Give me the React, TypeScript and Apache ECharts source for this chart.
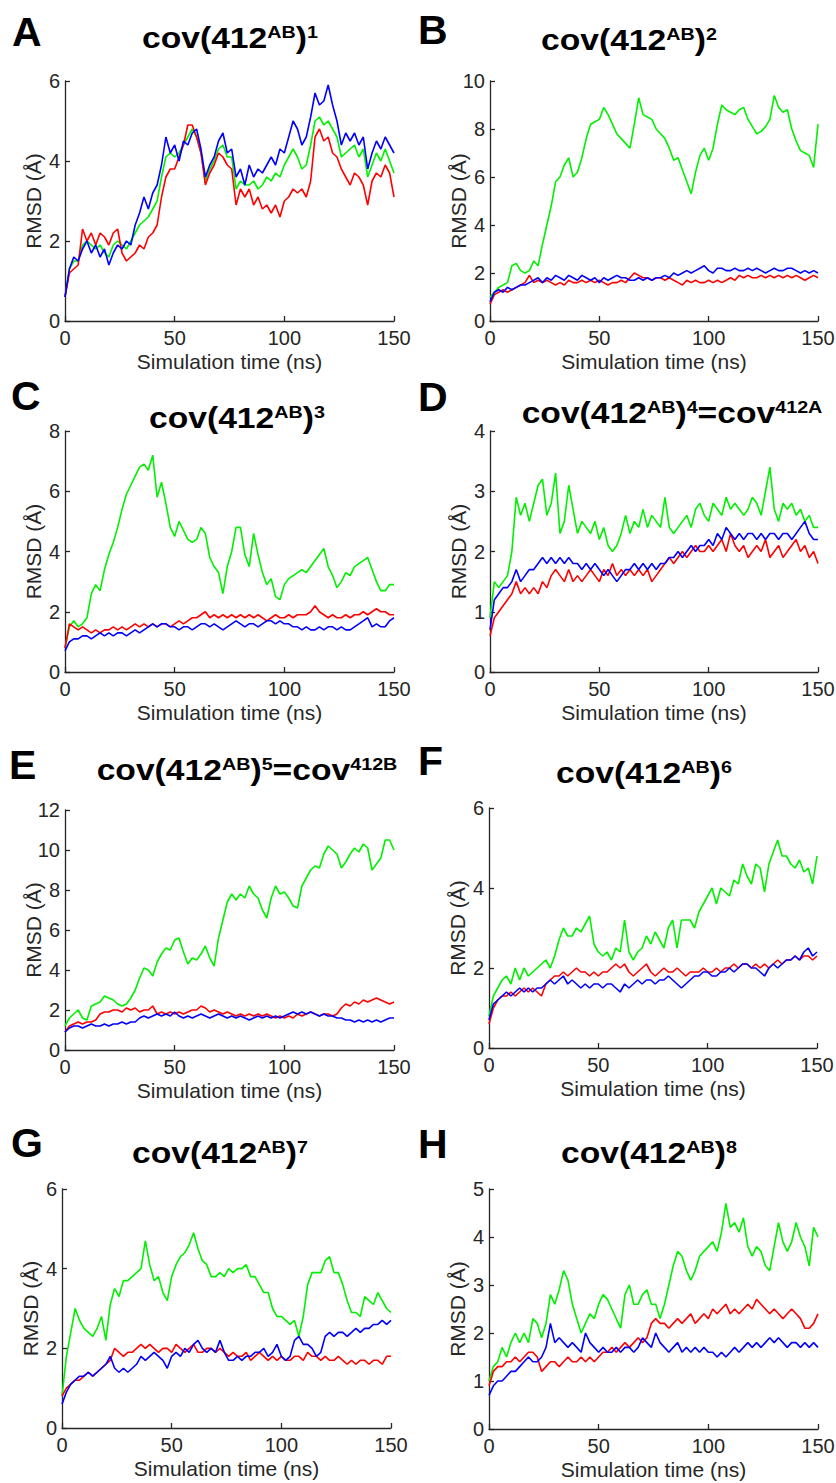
import React, { useEffect, useRef } from 'react';
import * as echarts from 'echarts';

const FONT = '"Liberation Sans", Arial, Helvetica, sans-serif';
const AXIS_COLOR = '#262626';

// simulation time (ns)
const time = [
  0, 2, 4, 6, 8, 10, 12, 14, 16, 18,
  20, 22, 24, 26, 28, 30, 32, 34, 36, 38,
  40, 42, 44, 46, 48, 50, 52, 54, 56, 58,
  60, 62, 64, 66, 68, 70, 72, 74, 76, 78,
  80, 82, 84, 86, 88, 90, 92, 94, 96, 98,
  100, 102, 104, 106, 108, 110, 112, 114, 116, 118,
  120, 122, 124, 126, 128, 130, 132, 134, 136, 138,
  140, 142, 144, 146, 148, 150,
];

// ---- Panel A ----
const redA = [
  0.6, 1.2, 1.3, 1.4, 2.3, 2.0, 2.2, 1.9, 2.2, 2.1,
  1.9, 2.2, 2.3, 1.7, 1.5, 1.6, 1.7, 1.9, 1.8, 2.1,
  2.2, 2.4, 3.1, 3.6, 3.8, 3.8, 4.1, 4.4, 4.9, 4.9,
  4.6, 4.2, 3.4, 3.7, 3.9, 4.2, 4.1, 3.9, 3.8, 2.9,
  3.3, 3.1, 3.3, 2.9, 3.1, 2.8, 2.9, 2.7, 2.9, 2.6,
  3.0, 3.1, 3.3, 3.2, 3.3, 3.1, 3.5, 4.6, 4.8, 4.5,
  4.6, 4.2, 4.1, 3.8, 3.6, 3.4, 3.7, 3.6, 3.4, 2.9,
  3.5, 3.7, 3.6, 3.9, 3.7, 3.1,
];
const greenA = [
  0.6, 1.3, 1.5, 1.5, 1.9, 2.0, 1.9, 1.8, 1.9, 1.7,
  1.6, 1.9, 2.0, 1.9, 1.8, 2.0, 2.2, 2.4, 2.5, 2.6,
  2.8, 3.0, 3.6, 4.1, 4.2, 4.1, 4.2, 4.4, 4.6, 4.8,
  4.6, 4.2, 3.5, 3.8, 4.0, 4.3, 4.4, 4.1, 4.1, 3.3,
  3.5, 3.4, 3.4, 3.5, 3.3, 3.4, 3.6, 3.5, 3.7, 3.6,
  3.9, 4.1, 4.3, 4.1, 3.8, 3.9, 4.4, 5.0, 5.1, 4.9,
  5.0, 4.8, 4.6, 4.1, 4.2, 4.3, 4.4, 4.1, 4.3, 3.6,
  3.9, 4.2, 4.0, 4.3, 4.0, 3.7,
];
const blueA = [
  0.6, 1.3, 1.6, 1.5, 1.8, 2.0, 1.7, 1.9, 1.6, 1.8,
  1.4, 1.7, 1.9, 1.8, 2.0, 1.9, 2.4, 2.7, 3.1, 2.8,
  3.2, 3.4, 3.9, 4.6, 4.2, 4.4, 4.0, 4.5, 4.4, 4.7,
  4.8, 4.3, 3.6, 3.9, 4.1, 4.5, 4.7, 4.2, 4.3, 3.6,
  3.8, 3.4, 3.9, 3.6, 3.8, 3.7, 3.9, 4.1, 3.9, 4.3,
  4.2, 4.6, 5.0, 4.8, 4.4, 4.6, 5.1, 5.7, 5.4, 5.5,
  5.9, 5.4, 5.0, 4.4, 4.7, 4.5, 4.7, 4.4, 4.6, 3.8,
  4.2, 4.5, 4.3, 4.6, 4.4, 4.2,
];

// ---- Panel B ----
const redB = [
  0.7, 1.1, 1.2, 1.3, 1.2, 1.3, 1.4, 1.5, 1.6, 1.9,
  1.6, 1.7, 1.6, 1.7, 1.6, 1.5, 1.6, 1.5, 1.7, 1.6,
  1.6, 1.7, 1.6, 1.7, 1.6, 1.7, 1.6, 1.5, 1.6, 1.6,
  1.7, 1.6, 1.8, 2.0, 1.9, 1.8, 1.8, 1.7, 1.8, 1.8,
  1.7, 1.8, 1.7, 1.6, 1.5, 1.7, 1.6, 1.7, 1.6, 1.6,
  1.7, 1.6, 1.7, 1.6, 1.7, 1.8, 1.7, 1.9, 1.8, 1.9,
  1.8, 1.8, 1.9, 1.8, 1.9, 1.8, 1.9, 1.8, 1.9, 1.8,
  1.9, 1.8, 1.7, 1.8, 1.9, 1.8,
];
const greenB = [
  1.0, 1.2, 1.4, 1.5, 1.6, 2.3, 2.4, 2.1, 2.0, 2.1,
  2.5, 2.3, 3.2, 4.0, 4.8, 5.8, 6.0, 6.5, 6.8, 6.0,
  6.2, 6.8, 7.6, 8.2, 8.3, 8.4, 8.9, 8.6, 8.2, 7.8,
  7.6, 7.4, 7.2, 8.2, 9.3, 8.6, 8.5, 8.4, 8.0, 7.8,
  7.6, 7.2, 6.7, 6.8, 6.3, 5.8, 5.3, 6.2, 6.9, 7.2,
  6.7, 7.2, 8.2, 9.0, 8.8, 8.7, 8.6, 8.8, 8.9, 8.4,
  8.1, 7.8, 7.9, 8.1, 8.4, 9.4, 8.9, 8.7, 8.8, 8.0,
  7.5, 7.1, 7.0, 6.9, 6.4, 8.2,
];
const blueB = [
  0.8, 1.2, 1.3, 1.2, 1.4, 1.3, 1.4, 1.5, 1.5, 1.6,
  1.7, 1.8, 1.6, 1.8, 1.7, 1.9, 1.8, 1.7, 1.9, 1.8,
  1.7, 1.9, 1.8, 1.7, 1.8, 1.6, 1.8, 1.7, 1.8, 1.9,
  1.8, 1.8, 1.7, 1.7, 1.8, 1.7, 1.8, 1.7, 1.8, 1.8,
  1.9, 1.8, 2.0, 1.9, 2.0, 2.1, 2.0, 2.1, 2.2, 2.3,
  2.1, 2.0, 2.2, 2.2, 2.1, 2.1, 2.2, 2.1, 2.1, 2.2,
  2.1, 2.2, 2.1, 2.0, 2.1, 2.2, 2.1, 2.1, 2.2, 2.2,
  2.1, 2.0, 2.1, 2.0, 2.1, 2.0,
];

// ---- Panel C ----
const redC = [
  0.8, 1.6, 1.5, 1.4, 1.5, 1.4, 1.3, 1.4, 1.3, 1.4,
  1.4, 1.5, 1.4, 1.5, 1.4, 1.5, 1.6, 1.5, 1.6, 1.5,
  1.6, 1.5, 1.6, 1.6, 1.5, 1.6, 1.7, 1.6, 1.7, 1.8,
  1.8, 1.9, 2.0, 1.8, 1.9, 1.8, 1.9, 1.8, 1.9, 1.8,
  1.9, 1.8, 1.9, 1.8, 1.9, 1.8, 1.7, 1.8, 1.9, 1.8,
  1.8, 1.9, 1.8, 1.9, 1.9, 1.9, 2.0, 2.2, 2.0, 1.9,
  1.8, 1.9, 1.8, 1.8, 1.9, 1.8, 1.9, 1.9, 2.0, 1.9,
  2.0, 2.1, 2.0, 2.0, 1.9, 1.9,
];
const greenC = [
  0.8, 1.5, 1.7, 1.5, 1.6, 1.8, 2.6, 2.9, 2.7, 3.4,
  3.9, 4.3, 4.8, 5.4, 5.9, 6.2, 6.5, 6.8, 6.9, 6.7,
  7.2, 5.8, 6.3, 5.6, 4.8, 4.5, 5.0, 4.7, 4.4, 4.3,
  4.4, 4.8, 4.6, 3.8, 3.5, 3.3, 2.6, 3.5, 4.0, 4.8,
  4.8, 3.9, 3.5, 4.6, 3.9, 3.3, 2.9, 3.1, 2.5, 2.4,
  2.9, 3.1, 3.2, 3.3, 3.4, 3.3, 3.5, 3.7, 3.9, 4.1,
  3.5, 3.2, 2.8, 3.0, 3.3, 3.2, 3.5, 3.6, 3.7, 3.8,
  3.4, 3.0, 2.7, 2.7, 2.9, 2.9,
];
const blueC = [
  0.7, 1.0, 1.1, 1.1, 1.2, 1.2, 1.1, 1.2, 1.3, 1.2,
  1.3, 1.2, 1.3, 1.3, 1.2, 1.3, 1.4, 1.3, 1.4, 1.5,
  1.6, 1.5, 1.6, 1.6, 1.5, 1.5, 1.4, 1.5, 1.5, 1.4,
  1.5, 1.6, 1.6, 1.5, 1.6, 1.5, 1.4, 1.5, 1.6, 1.7,
  1.6, 1.5, 1.6, 1.6, 1.5, 1.6, 1.7, 1.7, 1.6, 1.7,
  1.6, 1.6, 1.5, 1.5, 1.4, 1.5, 1.4, 1.4, 1.5, 1.4,
  1.5, 1.5, 1.4, 1.5, 1.4, 1.4, 1.5, 1.6, 1.7, 1.8,
  1.5, 1.6, 1.5, 1.5, 1.7, 1.8,
];

// ---- Panel D ----
const redD = [
  0.6, 0.9, 1.0, 1.1, 1.2, 1.3, 1.5, 1.3, 1.4, 1.3,
  1.4, 1.3, 1.5, 1.4, 1.6, 1.7, 1.6, 1.5, 1.7, 1.5,
  1.6, 1.5, 1.6, 1.7, 1.6, 1.5, 1.7, 1.6, 1.8, 1.6,
  1.7, 1.6, 1.7, 1.6, 1.7, 1.6, 1.7, 1.5, 1.6, 1.7,
  1.8, 1.9, 1.8, 1.9, 2.0, 1.9, 2.0, 2.1, 2.0, 2.0,
  2.1, 2.0, 2.1, 2.2, 2.0, 2.3, 2.1, 2.0, 2.1, 1.9,
  2.0, 2.1, 2.0, 2.2, 1.9, 2.0, 2.1, 1.9, 2.0, 2.1,
  2.2, 2.0, 2.1, 1.9, 2.0, 1.8,
];
const greenD = [
  0.9, 1.5, 1.4, 1.5, 1.6, 2.0, 2.9, 2.6, 2.8, 2.5,
  2.8, 3.1, 3.2, 2.6, 2.8, 3.3, 2.3, 2.5, 3.1, 2.7,
  2.3, 2.5, 2.4, 2.3, 2.5, 2.2, 2.4, 2.1, 2.0, 2.1,
  2.3, 2.6, 2.3, 2.5, 2.4, 2.7, 2.4, 2.6, 2.5, 2.4,
  2.9, 2.4, 2.3, 2.4, 2.5, 2.6, 2.4, 2.7, 2.8, 2.6,
  2.5, 2.8, 2.7, 2.6, 2.9, 2.7, 2.8, 2.7, 2.6, 2.7,
  2.9, 2.8, 2.6, 3.0, 3.4, 2.7, 2.5, 2.8, 2.7, 2.8,
  2.6, 2.7, 2.5, 2.6, 2.4, 2.4,
];
const blueD = [
  0.7, 1.2, 1.3, 1.4, 1.4, 1.5, 1.7, 1.5, 1.6, 1.7,
  1.7, 1.8, 1.9, 1.8, 1.9, 1.8, 1.9, 1.8, 1.9, 1.8,
  1.8, 1.7, 1.8, 1.7, 1.8, 1.7, 1.6, 1.7, 1.6, 1.5,
  1.6, 1.7, 1.7, 1.8, 1.7, 1.8, 1.7, 1.8, 1.7, 1.8,
  1.8, 1.9, 1.9, 2.0, 1.9, 2.0, 2.1, 2.0, 2.1, 2.1,
  2.2, 2.1, 2.3, 2.2, 2.4, 2.3, 2.2, 2.3, 2.2, 2.3,
  2.3, 2.2, 2.3, 2.2, 2.3, 2.3, 2.2, 2.3, 2.3, 2.2,
  2.3, 2.4, 2.5, 2.3, 2.2, 2.2,
];

// ---- Panel E ----
const redE = [
  0.9, 1.2, 1.3, 1.4, 1.3, 1.4, 1.4, 1.5, 1.8, 1.9,
  1.9, 2.0, 2.0, 1.9, 2.1, 2.0, 2.1, 1.9, 2.0, 2.0,
  2.2, 1.8, 1.9, 1.8, 1.9, 1.8, 1.9, 1.8, 1.9, 2.0,
  2.0, 2.2, 2.1, 1.9, 2.0, 1.9, 1.8, 1.9, 1.8, 1.7,
  1.8, 1.7, 1.8, 1.7, 1.8, 1.7, 1.8, 1.7, 1.6, 1.7,
  1.6, 1.7, 1.6, 1.8, 1.7, 1.8, 1.9, 1.8, 1.7, 1.8,
  1.8, 1.7, 1.8, 2.1, 2.3, 2.2, 2.4, 2.3, 2.5, 2.4,
  2.5, 2.6, 2.5, 2.4, 2.3, 2.4,
];
const greenE = [
  1.2, 1.6, 1.8, 2.0, 1.6, 1.5, 2.2, 2.3, 2.4, 2.7,
  2.6, 2.5, 2.3, 2.2, 2.3, 2.6, 3.0, 3.6, 4.1, 4.0,
  3.7, 4.4, 4.8, 5.1, 5.0, 5.5, 5.6, 4.9, 4.3, 4.6,
  4.5, 4.8, 5.2, 4.6, 4.2, 5.6, 6.5, 7.4, 7.8, 7.5,
  7.8, 7.6, 8.2, 7.8, 7.6, 7.0, 6.6, 7.6, 8.2, 7.8,
  7.9, 7.6, 7.2, 7.1, 8.2, 8.6, 9.0, 9.2, 9.1, 9.8,
  10.2, 10.0, 9.8, 9.1, 9.4, 9.8, 10.1, 9.9, 10.3, 10.1,
  9.0, 9.3, 9.6, 10.5, 10.5, 10.0,
];
const blueE = [
  0.9, 1.1, 1.2, 1.2, 1.1, 1.2, 1.3, 1.2, 1.2, 1.3,
  1.2, 1.3, 1.3, 1.4, 1.3, 1.4, 1.4, 1.6, 1.7, 1.6,
  1.7, 1.8, 1.7, 1.8, 1.7, 1.9, 1.7, 1.6, 1.7, 1.6,
  1.7, 1.8, 1.7, 1.6, 1.7, 1.8, 1.7, 1.6, 1.7, 1.6,
  1.7, 1.6, 1.5, 1.6, 1.7, 1.6, 1.7, 1.6, 1.7, 1.6,
  1.7, 1.8, 1.9, 1.8, 1.9, 1.8, 1.9, 1.8, 1.7, 1.8,
  1.7, 1.7, 1.6, 1.6, 1.5, 1.5, 1.4, 1.5, 1.4, 1.5,
  1.4, 1.5, 1.4, 1.5, 1.6, 1.6,
];

// ---- Panel F ----
const redF = [
  0.6, 1.0, 1.2, 1.3, 1.3, 1.4, 1.3, 1.4, 1.5, 1.4,
  1.5, 1.4, 1.3, 1.6, 1.7, 1.8, 1.8, 1.9, 1.8, 1.9,
  2.0, 1.9, 1.9, 1.8, 1.9, 1.8, 1.9, 1.9, 2.0, 2.1,
  2.0, 2.1, 1.9, 1.8, 1.9, 2.0, 2.1, 1.9, 1.8, 1.9,
  2.0, 1.9, 1.9, 2.0, 1.9, 1.8, 1.9, 1.9, 1.9, 2.0,
  1.9, 1.9, 2.0, 1.9, 2.0, 2.0, 2.1, 2.0, 2.1, 2.1,
  2.0, 2.1, 2.0, 2.1, 2.0, 2.1, 2.2, 2.1, 2.2, 2.2,
  2.3, 2.2, 2.3, 2.3, 2.2, 2.3,
];
const greenF = [
  0.8, 1.3, 1.5, 1.7, 1.8, 1.6, 2.0, 1.7, 2.0, 1.8,
  1.9, 2.0, 2.1, 2.2, 2.0, 2.3, 2.7, 3.0, 2.8, 2.8,
  3.0, 2.9, 3.1, 3.3, 2.6, 2.4, 2.3, 2.4, 2.2, 2.5,
  2.4, 3.2, 2.4, 2.2, 2.4, 2.5, 2.8, 2.6, 2.9, 2.7,
  2.5, 3.0, 3.2, 2.5, 3.2, 3.2, 3.2, 3.0, 3.4, 3.6,
  3.8, 4.0, 3.6, 4.0, 3.9, 3.8, 4.2, 4.1, 4.6, 4.3,
  4.1, 4.6, 4.5, 3.9, 4.6, 4.9, 5.2, 4.8, 4.8, 4.6,
  4.5, 4.7, 4.4, 4.5, 4.1, 4.8,
];
const blueF = [
  0.7, 1.1, 1.2, 1.3, 1.4, 1.3, 1.4, 1.5, 1.4, 1.5,
  1.4, 1.5, 1.5, 1.6, 1.7, 1.6, 1.7, 1.8, 1.6, 1.7,
  1.6, 1.5, 1.6, 1.5, 1.6, 1.6, 1.5, 1.6, 1.6, 1.5,
  1.4, 1.6, 1.5, 1.6, 1.7, 1.6, 1.7, 1.7, 1.6, 1.7,
  1.7, 1.8, 1.7, 1.6, 1.5, 1.6, 1.7, 1.8, 1.8, 1.9,
  1.9, 1.8, 1.8, 1.9, 1.9, 2.0, 1.9, 2.0, 2.1, 2.1,
  2.0, 2.0, 1.9, 1.8, 2.0, 2.1, 2.0, 2.1, 2.2, 2.2,
  2.3, 2.2, 2.4, 2.5, 2.3, 2.4,
];

// ---- Panel G ----
const redG = [
  0.8, 1.0, 1.1, 1.2, 1.2, 1.3, 1.4, 1.3, 1.4, 1.5,
  1.6, 1.7, 2.0, 1.9, 1.8, 1.9, 1.9, 2.0, 2.1, 2.0,
  2.1, 2.0, 1.9, 2.0, 2.0, 1.9, 2.1, 2.0, 1.9, 2.0,
  2.1, 1.9, 1.9, 2.0, 2.0, 1.9, 2.0, 1.9, 1.8, 1.9,
  1.8, 1.8, 1.9, 1.7, 1.8, 1.9, 1.8, 1.7, 1.8, 1.7,
  1.8, 1.7, 1.7, 1.8, 1.8, 1.7, 1.9, 1.8, 1.8, 1.7,
  1.8, 1.7, 1.7, 1.8, 1.7, 1.6, 1.7, 1.6, 1.7, 1.7,
  1.6, 1.7, 1.7, 1.6, 1.8, 1.8,
];
const greenG = [
  0.8, 1.8, 2.4, 3.0, 2.7, 2.5, 2.4, 2.3, 2.5, 2.8,
  2.2, 3.1, 3.5, 3.3, 3.7, 3.7, 3.8, 3.9, 4.0, 4.7,
  4.1, 3.7, 3.8, 3.4, 3.2, 3.8, 4.1, 4.3, 4.4, 4.6,
  4.9, 4.5, 4.2, 4.1, 3.8, 3.8, 3.9, 3.8, 4.0, 3.9,
  4.0, 4.0, 4.1, 3.8, 3.8, 3.6, 3.4, 3.4, 3.0, 2.8,
  2.8, 2.7, 2.6, 2.7, 2.3, 2.8, 3.6, 3.9, 3.9, 3.9,
  4.2, 4.3, 3.9, 3.9, 3.6, 3.2, 2.9, 2.9, 2.8, 3.3,
  3.2, 3.1, 3.4, 3.2, 3.0, 2.9,
];
const blueG = [
  0.6, 0.9, 1.1, 1.2, 1.3, 1.3, 1.4, 1.3, 1.4, 1.5,
  1.6, 1.8, 1.5, 1.4, 1.5, 1.4, 1.5, 1.6, 1.8, 1.7,
  1.8, 1.9, 1.8, 1.7, 1.5, 1.8, 1.9, 1.8, 2.0, 1.9,
  2.1, 2.2, 2.0, 1.9, 2.0, 1.9, 2.2, 1.9, 1.7, 1.7,
  1.8, 1.7, 1.8, 1.8, 1.9, 1.9, 2.0, 1.8, 1.9, 2.1,
  1.8, 1.7, 1.8, 2.2, 2.3, 2.1, 2.1, 2.0, 1.8, 1.9,
  2.3, 2.4, 2.3, 2.4, 2.4, 2.3, 2.4, 2.5, 2.4, 2.5,
  2.5, 2.6, 2.6, 2.7, 2.6, 2.7,
];

// ---- Panel H ----
const redH = [
  0.9, 1.2, 1.3, 1.3, 1.4, 1.4, 1.5, 1.4, 1.5, 1.6,
  1.6, 1.5, 1.2, 1.3, 1.4, 1.4, 1.3, 1.4, 1.5, 1.4,
  1.4, 1.5, 1.4, 1.5, 1.4, 1.5, 1.6, 1.6, 1.7, 1.6,
  1.7, 1.8, 1.7, 1.8, 1.9, 1.8, 1.9, 2.2, 2.3, 2.2,
  2.2, 2.1, 2.2, 2.3, 2.2, 2.3, 2.4, 2.2, 2.3, 2.4,
  2.3, 2.5, 2.4, 2.5, 2.6, 2.4, 2.5, 2.4, 2.5, 2.6,
  2.5, 2.7, 2.6, 2.5, 2.4, 2.5, 2.4, 2.3, 2.4, 2.5,
  2.4, 2.3, 2.1, 2.1, 2.2, 2.4,
];
const greenH = [
  1.0, 1.3, 1.4, 1.7, 1.5, 1.8, 2.0, 1.8, 2.0, 1.8,
  2.3, 2.2, 1.9, 2.2, 2.8, 2.6, 2.9, 3.3, 3.1, 2.6,
  2.3, 2.0, 2.2, 2.4, 2.3, 2.6, 2.8, 2.7, 2.5, 2.3,
  2.1, 2.8, 3.0, 2.6, 2.6, 2.8, 2.9, 2.6, 2.6, 2.3,
  2.6, 3.0, 3.4, 3.7, 3.6, 3.3, 3.1, 3.3, 3.6, 3.7,
  3.8, 3.9, 3.7, 4.1, 4.7, 4.2, 4.3, 4.1, 4.4, 3.8,
  3.6, 3.8, 3.7, 3.4, 3.3, 3.8, 4.3, 3.9, 3.7, 3.9,
  4.3, 4.0, 3.8, 3.4, 4.2, 4.0,
];
const blueH = [
  0.7, 0.9, 1.0, 1.0, 1.1, 1.2, 1.2, 1.3, 1.4, 1.5,
  1.4, 1.4, 1.5, 1.7, 2.2, 1.8, 1.9, 1.8, 1.7, 1.8,
  1.7, 1.6, 2.0, 1.8, 1.7, 1.6, 1.7, 1.6, 1.6, 1.7,
  1.6, 1.7, 1.7, 1.6, 1.7, 1.9, 1.8, 1.7, 2.0, 1.8,
  1.7, 1.6, 1.7, 1.8, 1.6, 1.7, 1.6, 1.7, 1.6, 1.7,
  1.6, 1.6, 1.5, 1.6, 1.5, 1.6, 1.7, 1.6, 1.7, 1.8,
  1.7, 1.8, 1.7, 1.8, 1.9, 1.8, 1.9, 1.8, 1.7, 1.8,
  1.8, 1.7, 1.8, 1.7, 1.8, 1.7,
];

const panelLetters = ['A', 'B', 'C', 'D', 'E', 'F', 'G', 'H'];
// title segments: [text, isSuperscript]
const panelTitles: [string, boolean][][] = [
  [['cov(412', false], ['AB', true], [')', false], ['1', true]],
  [['cov(412', false], ['AB', true], [')', false], ['2', true]],
  [['cov(412', false], ['AB', true], [')', false], ['3', true]],
  [['cov(412', false], ['AB', true], [')', false], ['4', true], ['=cov', false], ['412A', true]],
  [['cov(412', false], ['AB', true], [')', false], ['5', true], ['=cov', false], ['412B', true]],
  [['cov(412', false], ['AB', true], [')', false], ['6', true]],
  [['cov(412', false], ['AB', true], [')', false], ['7', true]],
  [['cov(412', false], ['AB', true], [')', false], ['8', true]],
];
const panelRed = [redA, redB, redC, redD, redE, redF, redG, redH];
const panelGreen = [greenA, greenB, greenC, greenD, greenE, greenF, greenG, greenH];
const panelBlue = [blueA, blueB, blueC, blueD, blueE, blueF, blueG, blueH];
const yMax = [6, 10, 8, 4, 12, 6, 6, 5];
const yStep = [2, 2, 2, 1, 2, 2, 2, 1];
const xMin = 0;
const xMax = 150;
const xStep = 50;
const xName = 'Simulation time (ns)';
const yName = 'RMSD (Å)';

// ---- layout (pixels) ----
const gridBoxes = [
  { left: 65, top: 81, width: 329, height: 240 },
  { left: 490, top: 81, width: 328, height: 240 },
  { left: 65, top: 431, width: 329, height: 241 },
  { left: 490, top: 431, width: 328, height: 241 },
  { left: 65, top: 810, width: 329, height: 240 },
  { left: 489, top: 808, width: 328, height: 240 },
  { left: 62, top: 1189, width: 329, height: 239 },
  { left: 489, top: 1189, width: 329, height: 240 },
];
const titlePos = [
  [230, 48], [629, 50], [237, 428], [672, 423],
  [247, 780], [644, 783], [220, 1163], [649, 1163],
];
const letterPos = [
  [12, 32], [418, 30], [11, 396], [418, 397],
  [9, 765], [418, 761], [11, 1143], [418, 1144],
];

const MAIN_SIZE = 29;
const SUP_SIZE = 17;
const TITLE_SCALE_X = 1.16;

function buildTitle(parts: [string, boolean][], cx: number, baseline: number) {
  const ctx = document.createElement('canvas').getContext('2d');
  const widths = parts.map(([t, sup]) => {
    const size = sup ? SUP_SIZE : MAIN_SIZE;
    if (!ctx) return t.length * size * 0.6;
    ctx.font = `bold ${size}px "Liberation Sans", Arial, sans-serif`;
    return ctx.measureText(t).width;
  });
  const total = widths.reduce((a, b) => a + b, 0);
  let x = -total / 2;
  const children = parts.map(([t, sup], i) => {
    const size = sup ? SUP_SIZE : MAIN_SIZE;
    const y = sup ? -(10.5 + 0.3465 * size) : -0.3465 * size;
    const el = {
      type: 'text',
      x,
      y,
      silent: true,
      style: {
        text: t,
        fontSize: size,
        fontWeight: 'bold',
        fontFamily: FONT,
        fill: '#000000',
        align: 'left',
        verticalAlign: 'middle',
      },
    };
    x += widths[i];
    return el;
  });
  return { type: 'group', x: cx, y: baseline, scaleX: TITLE_SCALE_X, scaleY: 1, children };
}

export default function App() {
  const ref = useRef<HTMLDivElement>(null);

  useEffect(() => {
    document.body.style.margin = '0';
    if (!ref.current) return;
    const chart = echarts.init(ref.current, null, { renderer: 'svg' });

    const grid = gridBoxes.map((g) => ({ ...g, containLabel: false, outerBoundsMode: 'none' }));
    const axisTextStyle = { color: AXIS_COLOR, fontSize: 20, fontFamily: FONT };

    const xAxis = gridBoxes.map((_, i) => ({
      type: 'value',
      gridIndex: i,
      min: xMin,
      max: xMax,
      interval: xStep,
      name: xName,
      nameLocation: 'middle',
      nameGap: 30,
      nameMoveOverlap: false,
      nameTextStyle: { color: AXIS_COLOR, fontSize: 21, fontFamily: FONT },
      axisLine: { show: true, onZero: false, lineStyle: { color: AXIS_COLOR, width: 1.3 } },
      axisTick: { show: true, inside: true, length: 5, lineStyle: { color: AXIS_COLOR, width: 1.3 } },
      axisLabel: { ...axisTextStyle, margin: 7 },
      splitLine: { show: false },
    }));

    const yAxis = gridBoxes.map((_, i) => ({
      type: 'value',
      gridIndex: i,
      min: 0,
      max: yMax[i],
      interval: yStep[i],
      name: yName,
      nameLocation: 'middle',
      nameRotate: 90,
      nameGap: 21,
      nameMoveOverlap: false,
      nameTextStyle: { color: AXIS_COLOR, fontSize: 21, fontFamily: FONT },
      axisLine: { show: true, onZero: false, lineStyle: { color: AXIS_COLOR, width: 1.3 } },
      axisTick: { show: true, inside: true, length: 5, lineStyle: { color: AXIS_COLOR, width: 1.3 } },
      axisLabel: { ...axisTextStyle, margin: 5 },
      splitLine: { show: false },
    }));

    const series: any[] = [];
    const mk = (name: string, vals: number[], color: string, i: number, z: number) => ({
      type: 'line',
      name,
      xAxisIndex: i,
      yAxisIndex: i,
      data: time.map((t, k) => [t, vals[k]]),
      showSymbol: false,
      symbol: 'none',
      silent: true,
      z,
      lineStyle: { color, width: 1.6 },
      itemStyle: { color },
    });
    gridBoxes.forEach((_, i) => {
      series.push(mk('green', panelGreen[i], '#00f000', i, 2));
      series.push(mk('red', panelRed[i], '#ff0000', i, 3));
      series.push(mk('blue', panelBlue[i], '#0000ff', i, 4));
    });

    const graphic: any[] = [];
    panelLetters.forEach((L, i) => {
      graphic.push({
        type: 'text',
        x: letterPos[i][0],
        y: letterPos[i][1],
        silent: true,
        style: {
          text: L,
          fontSize: 41,
          fontWeight: 'bold',
          fontFamily: FONT,
          fill: '#000000',
          align: 'left',
          verticalAlign: 'middle',
        },
      });
      graphic.push(buildTitle(panelTitles[i], titlePos[i][0], titlePos[i][1]));
    });

    chart.setOption({
      animation: false,
      backgroundColor: '#ffffff',
      textStyle: { fontFamily: FONT },
      grid,
      xAxis,
      yAxis,
      series,
      graphic,
    });

    return () => chart.dispose();
  }, []);

  return <div ref={ref} style={{ width: 836, height: 1483 }} />;
}
